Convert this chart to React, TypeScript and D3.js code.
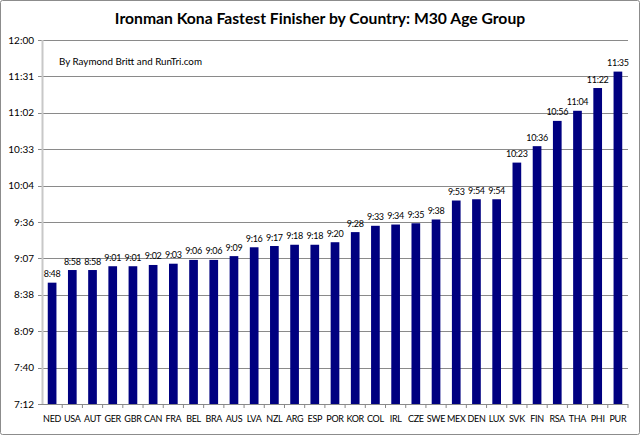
import React from "react";
import * as d3 from "d3";

const countries = ["NED","USA","AUT","GER","GBR","CAN","FRA","BEL","BRA","AUS","LVA","NZL","ARG","ESP","POR","KOR","COL","IRL","CZE","SWE","MEX","DEN","LUX","SVK","FIN","RSA","THA","PHI","PUR"];
const times = ["8:48","8:58","8:58","9:01","9:01","9:02","9:03","9:06","9:06","9:09","9:16","9:17","9:18","9:18","9:20","9:28","9:33","9:34","9:35","9:38","9:53","9:54","9:54","10:23","10:36","10:56","11:04","11:22","11:35"];
const yTickLabels = ["7:12","7:40","8:09","8:38","9:07","9:36","10:04","10:33","11:02","11:31","12:00"];
const yMinMinutes = 432;
const yMaxMinutes = 720;

const toMin = (s: string) => { const [h, m] = s.split(":").map(Number); return h * 60 + m; };

const W = 640, H = 435;
const left = 42, right = 628, top = 40, bottom = 404;
const FONT = "Lato, 'Open Sans', sans-serif";

export default function App() {
  const x = d3.scaleBand<string>().domain(countries).range([left, right]).paddingInner(0.57).paddingOuter(0.285);
  const y = d3.scaleLinear().domain([yMinMinutes, yMaxMinutes]).range([bottom, top]);
  const tickVals = yTickLabels.map((_, i) => yMinMinutes + (i * (yMaxMinutes - yMinMinutes)) / (yTickLabels.length - 1));
  const step = (right - left) / countries.length;
  return (
    <svg width={W} height={H} style={{ position: "absolute", left: 0, top: 0, background: "#fff" }} fontFamily={FONT}>
      <rect x={0.5} y={0.5} width={W - 1} height={H - 1} fill="#fff" stroke="#8c8c8c" rx={2} />
      <text x={320} y={24} textAnchor="middle" fontSize={15.7} fontWeight="bold" fill="#000">Ironman Kona Fastest Finisher by Country: M30 Age Group</text>
      {tickVals.map((v, i) => (
        <g key={i}>
          <line x1={left - 4} x2={right} y1={Math.round(y(v)) + 0.5} y2={Math.round(y(v)) + 0.5} stroke="#8a8a8a" strokeWidth={1} />
          <text x={left - 8} y={y(v) + 3.5} textAnchor="end" fontSize={10} fill="#000">{yTickLabels[i]}</text>
        </g>
      ))}
      <line x1={left + 0.5} x2={left + 0.5} y1={top} y2={bottom} stroke="#c8c8c8" strokeWidth={2} />
      {countries.map((c, i) => (
        <line key={"t" + i} x1={left + step * (i + 1)} x2={left + step * (i + 1)} y1={bottom} y2={bottom + 4} stroke="#888" />
      ))}
      <text x={59} y={65} fontSize={9.8} fill="#000">By Raymond Britt and RunTri.com</text>
      {countries.map((c, i) => {
        const v = toMin(times[i]);
        const bx = x(c)!;
        return (
          <g key={c}>
            <rect x={bx} y={y(v)} width={x.bandwidth()} height={bottom - y(v)} fill="#000080" />
            <text x={bx + x.bandwidth() / 2} y={y(v) - 5.5} textAnchor="middle" fontSize={9} letterSpacing={-0.3} fill="#000">{times[i]}</text>
            <text x={bx + x.bandwidth() / 2} y={bottom + 18} textAnchor="middle" fontSize={9} letterSpacing={-0.3} fill="#000">{c}</text>
          </g>
        );
      })}
    </svg>
  );
}
